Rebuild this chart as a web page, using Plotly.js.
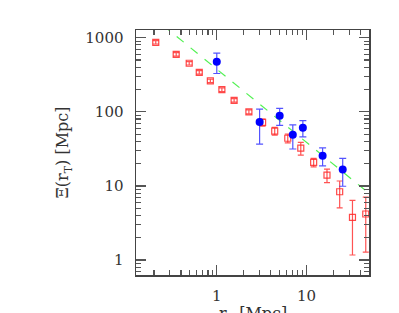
<!DOCTYPE html>
<html>
<head>
<meta charset="utf-8">
<script src="https://cdn.plot.ly/plotly-3.0.1.min.js"></script>
<style>html,body{margin:0;padding:0;background:#fff}#chart{width:399px;height:313px}</style>
</head>
<body>
<div id="chart"></div>
<script>
var redX = [0.209,0.353,0.493,0.638,0.848,1.14,1.56,2.28,3.24,4.42,6.18,8.63,12.0,16.9,23.4,32.5,45.7];
var redY = [867,597,452,341,261,199,143,100,72,55,44,32.4,20.8,14.0,8.35,3.77,4.18];
var redErr = [45,32,24,18,14,11,8,6,8,6.5,6,6.3,2.7,2.9,3.3,2.6,2.9];

var blueX = [1.0,3.0,5.02,7.03,9.1,15.1,25.3];
var blueY = [474,72.7,88.5,49,61,25.6,16.7];
var blueErr = [145,36,23,17.5,15,7,6.8];

var lineX = [0.25,60];
var lineY = [1480,6.6];

var xTitle = 'r<sub>T</sub> [Mpc]';
var yTitle = 'Ξ(r<sub>T</sub>) [Mpc]';

var font = {family:'DejaVu Serif', size:15, color:'#333'};
var titleFont = {family:'DejaVu Serif', size:16, color:'#333'};

var traces = [
  {x: lineX, y: lineY, mode:'lines', line:{color:'#33ee33', width:1.2, dash:'dash'}, hoverinfo:'skip', opacity:0.85},
  {x: redX, y: redY, mode:'markers', marker:{symbol:'square-open', size:6, color:'rgba(255,40,40,0.85)', line:{width:1.2}},
   error_y:{type:'data', array: redErr, color:'rgba(255,40,40,0.8)', thickness:1.2, width:3}},
  {x: blueX, y: blueY, mode:'markers', marker:{symbol:'circle', size:8, color:'#0000ff'},
   error_y:{type:'data', array: blueErr, color:'rgba(40,40,255,0.8)', thickness:1.2, width:3.5}}
];

var axisCommon = {
  type:'log', showline:true, linecolor:'#444', linewidth:1.5, mirror:'allticks',
  ticks:'inside', ticklen:10, tickwidth:1.2, tickcolor:'#555', showgrid:false, zeroline:false,
  dtick:1, tickfont:font,
  minor:{dtick:'D1', ticks:'inside', ticklen:5, tickwidth:1.2, tickcolor:'#555', showgrid:false}
};

var layout = {
  width:399, height:313,
  margin:{l:136, r:30, t:30, b:38},
  paper_bgcolor:'#fff', plot_bgcolor:'#fff',
  showlegend:false,
  xaxis: Object.assign({}, axisCommon, {range:[-0.9,1.696], automargin:false, ticklabelstandoff:6}),
  yaxis: Object.assign({}, axisCommon, {range:[-0.202,3.104], automargin:false, ticklabelstandoff:8,
    title:{text:yTitle, font:titleFont, standoff:12}}),
  annotations: [
    {text:xTitle, xref:'paper', yref:'paper', x:0.5, y:0, xanchor:'center', yanchor:'top',
     yshift:-27, showarrow:false, font:titleFont}
  ]
};

Plotly.newPlot('chart', traces, layout, {staticPlot:true, displayModeBar:false});
</script>
</body>
</html>
